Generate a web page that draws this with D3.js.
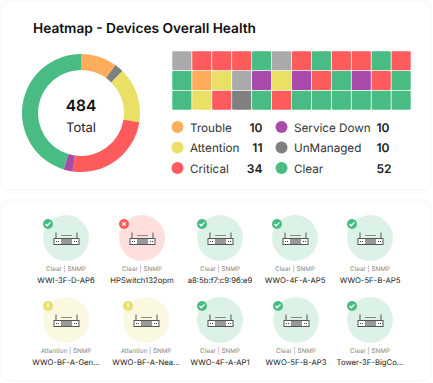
<!DOCTYPE html>
<html>
<head>
<meta charset="utf-8">
<script src="https://cdn.jsdelivr.net/npm/d3@7"></script>
<style>
    html, body { margin: 0; padding: 0; background: #fff; overflow: hidden; }
    text { font-family: Inter, "Noto Sans", sans-serif; text-rendering: geometricPrecision; }
</style>
</head>
<body>
<div id="chart-container"></div>
<script>
// donut shares (they add up to the 484 in the middle)
const donutStates = ['Trouble', 'UnManaged', 'Attention', 'Critical', 'Service Down', 'Clear'];
const donutValues = [48, 12, 73, 120, 12, 219];

// legend
const legendLeft = ['Trouble', 'Attention', 'Critical'];
const legendLeftCounts = [10, 11, 34];
const legendRight = ['Service Down', 'UnManaged', 'Clear'];
const legendRightCounts = [10, 10, 52];

// heatmap cells, row by row
const heatRow1 = ['None', 'Critical', 'Critical', 'Critical', 'Clear', 'None', 'Critical', 'Clear', 'Critical', 'Critical', 'Clear', 'Critical'];
const heatRow2 = ['Clear', 'Trouble', 'Attention', 'None', 'Service Down', 'Attention', 'Service Down', 'Critical', 'Clear', 'Service Down', 'Critical', 'Clear'];
const heatRow3 = ['Clear', 'Attention', 'Critical', 'UnManaged', 'Clear', 'Critical', 'Clear', 'Clear', 'Clear', 'Clear', 'Clear', 'Clear'];

// devices. the second one shows a red icon but its label still says Clear
const deviceNames1 = ['WWI-3F-D-AP6', 'HPSwitch132opm', 'a8:5b:f7:c9:96:e9', 'WWO-4F-A-AP5', 'WWO-5F-B-AP5'];
const deviceStates1 = ['Clear', 'Critical', 'Clear', 'Clear', 'Clear'];
const deviceLabels1 = ['Clear | SNMP', 'Clear | SNMP', 'Clear | SNMP', 'Clear | SNMP', 'Clear | SNMP'];
const deviceNames2 = ['WWO-BF-A-Gen...', 'WWO-BF-A-Nea...', 'WWO-4F-A-AP1', 'WWO-5F-B-AP3', 'Tower-3F-BigCo...'];
const deviceStates2 = ['Attention', 'Attention', 'Clear', 'Clear', 'Clear'];
const deviceLabels2 = ['Attention | SNMP', 'Attention | SNMP', 'Clear | SNMP', 'Clear | SNMP', 'Clear | SNMP'];

const width = 433, height = 383;

const color = d3.scaleOrdinal()
    .domain(['Trouble', 'Attention', 'Critical', 'Service Down', 'UnManaged', 'Clear', 'None'])
    .range(['#fdad5c', '#e9e065', '#fe5b5d', '#aa4aab', '#808080', '#48bc82', '#aaaaaa']);
const lightColor = d3.scaleOrdinal()
    .domain(['Clear', 'Critical', 'Attention'])
    .range(['#ddf2e6', '#ffdfdd', '#faf8e0']);

const svg = d3.select('#chart-container')
    .append('svg')
    .attr('width', width)
    .attr('height', height)
    .style('display', 'block');

// checker pattern for the middle of the router icon
svg.append('defs').append('pattern')
    .attr('id', 'checks')
    .attr('width', 2).attr('height', 2)
    .attr('patternUnits', 'userSpaceOnUse')
    .html('<rect width="2" height="2" fill="#fff"/><rect width="1" height="1" fill="#333"/><rect x="1" y="1" width="1" height="1" fill="#333"/>');

// cards
svg.selectAll('.card')
    .data([[1, 189], [200, 181]])
    .join('rect')
    .attr('class', 'card')
    .attr('x', 1)
    .attr('y', d => d[0])
    .attr('width', 430)
    .attr('height', d => d[1])
    .attr('rx', 8)
    .attr('fill', '#fff')
    .attr('stroke', '#f4f4f4');

svg.append('text')
    .attr('x', 33)
    .attr('y', 32.5)
    .attr('font-size', 13.7)
    .attr('font-weight', 600)
    .attr('fill', '#111')
    .text('Heatmap - Devices Overall Health');

// donut
const pie = d3.pie().sort(null);
const arc = d3.arc().innerRadius(43).outerRadius(59);
const donut = svg.append('g').attr('transform', 'translate(81,113)');
donut.selectAll('path')
    .data(pie(donutValues))
    .join('path')
    .attr('d', arc)
    .attr('fill', (d, i) => color(donutStates[i]));
donut.append('text')
    .attr('text-anchor', 'middle')
    .attr('y', -2.5)
    .attr('font-size', 15.5)
    .attr('font-weight', 600)
    .attr('fill', '#111')
    .text(d3.sum(donutValues));
donut.append('text')
    .attr('text-anchor', 'middle')
    .attr('y', 18.5)
    .attr('font-size', 13)
    .attr('fill', '#222')
    .text('Total');

// heatmap
const heatRows = [heatRow1, heatRow2, heatRow3];
const cellX = d3.scaleBand().domain(d3.range(12)).range([171.5, 411.5]).padding(0.04);
const cellY = d3.scaleBand().domain(d3.range(3)).range([50.5, 110.5]).padding(0.04);
heatRows.forEach(function (row, r) {
    svg.selectAll('.cell' + r)
        .data(row)
        .join('rect')
        .attr('class', 'cell' + r)
        .attr('x', (d, i) => cellX(i))
        .attr('y', cellY(r))
        .attr('width', cellX.bandwidth())
        .attr('height', cellY.bandwidth())
        .attr('rx', 1)
        .attr('fill', d => color(d));
});

// legend
const legendY = d3.scalePoint().domain(d3.range(3)).range([127, 168]);
function drawLegend(names, counts, dotX, countX, anchor) {
    const g = svg.append('g');
    g.selectAll('circle')
        .data(names)
        .join('circle')
        .attr('cx', dotX)
        .attr('cy', (d, i) => legendY(i))
        .attr('r', 6)
        .attr('fill', d => color(d));
    g.selectAll('.name')
        .data(names)
        .join('text')
        .attr('class', 'name')
        .attr('x', dotX + 12.5)
        .attr('y', (d, i) => legendY(i) + 4.5)
        .attr('font-size', 11.7)
        .attr('fill', '#333')
        .text(d => d);
    g.selectAll('.count')
        .data(counts)
        .join('text')
        .attr('class', 'count')
        .attr('x', countX)
        .attr('y', (d, i) => legendY(i) + 4.5)
        .attr('text-anchor', anchor)
        .attr('font-size', 12)
        .attr('font-weight', 600)
        .attr('fill', '#222')
        .text(d => d);
}
drawLegend(legendLeft, legendLeftCounts, 177.5, 262.5, 'end');
drawLegend(legendRight, legendRightCounts, 281.5, 376.5, 'start');

// device rows
const deviceX1 = d3.scaleOrdinal().domain(d3.range(5)).range([66, 142, 220, 295, 370]);
const deviceX2 = d3.scaleOrdinal().domain(d3.range(5)).range([66, 146, 220, 296, 370]);

function drawRouter(g) {
    g.append('path')
        .attr('d', 'M-10.5,0V-5.5M10.5,0V-5.5')
        .attr('stroke', '#555')
        .attr('fill', 'none');
    g.append('path')
        .attr('d', 'M-5.5,-2.5H5.5')
        .attr('stroke', '#888')
        .attr('fill', 'none');
    g.append('rect')
        .attr('x', -12.5).attr('y', 0.5)
        .attr('width', 25).attr('height', 6)
        .attr('fill', '#fff')
        .attr('stroke', '#555');
    g.append('rect')
        .attr('x', -5.5).attr('y', 1)
        .attr('width', 11).attr('height', 5)
        .attr('fill', 'url(#checks)');
    g.append('path')
        .attr('d', 'M-10.5,3.5h1M-8.5,3.5h1M7.5,3.5h1M9.5,3.5h1')
        .attr('stroke', '#333')
        .attr('fill', 'none');
}

function drawBadge(g, state) {
    g.append('circle').attr('r', 5).attr('fill', color(state));
    if (state === 'Clear') {
        g.append('path').attr('d', 'M-2.5,0L-0.8,1.8L2.5,-1.6')
            .attr('stroke', '#fff').attr('stroke-width', 1.3).attr('fill', 'none');
    } else if (state === 'Critical') {
        g.append('path').attr('d', 'M-1.7,-1.7L1.7,1.7M1.7,-1.7L-1.7,1.7')
            .attr('stroke', '#fff').attr('stroke-width', 1.2).attr('fill', 'none');
    } else {
        g.append('path').attr('d', 'M0,-3V0.8M0,2V3')
            .attr('stroke', '#fff').attr('stroke-width', 1.2).attr('fill', 'none');
    }
}

function drawDevices(names, states, labels, x, cy) {
    const node = svg.selectAll('.node' + cy)
        .data(names)
        .join('g')
        .attr('class', 'node' + cy)
        .attr('transform', (d, i) => `translate(${x(i)},${cy})`);
    node.append('circle')
        .attr('r', 23)
        .attr('fill', (d, i) => lightColor(states[i]));
    node.append('g').attr('transform', 'translate(0.5,0)')
        .each(function () { drawRouter(d3.select(this)); });
    node.append('g').attr('transform', 'translate(-18,-14)')
        .each(function (d, i) { drawBadge(d3.select(this), states[i]); });
    node.append('text')
        .attr('text-anchor', 'middle')
        .attr('y', 33)
        .attr('font-size', 6.3)
        .attr('fill', '#888')
        .text((d, i) => labels[i]);
    node.append('text')
        .attr('text-anchor', 'middle')
        .attr('y', 45)
        .attr('font-size', 7.7)
        .attr('fill', '#222')
        .text(d => d);
}
drawDevices(deviceNames1, deviceStates1, deviceLabels1, deviceX1, 238);
drawDevices(deviceNames2, deviceStates2, deviceLabels2, deviceX2, 320);
</script>
</body>
</html>
